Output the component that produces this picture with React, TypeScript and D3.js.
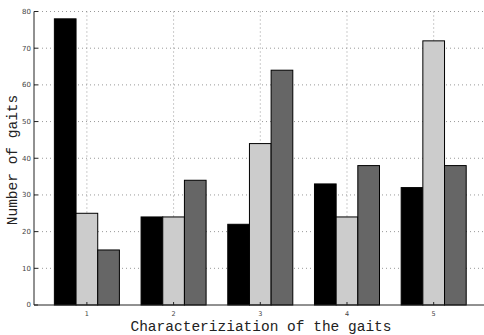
import React from "react";
import * as d3 from "d3";

const categories = [1, 2, 3, 4, 5];
const seriesA = [78, 24, 22, 33, 32];
const seriesB = [25, 24, 44, 24, 72];
const seriesC = [15, 34, 64, 38, 38];
const yTicks = [0, 10, 20, 30, 40, 50, 60, 70, 80];

const W = 484;
const H = 335;
const left = 34;
const top = 11.5;
const bottom = 305;

const x = d3.scaleLinear().domain([0.39, 5.61]).range([left, left + 86.7 * 5.22]);
const y = d3.scaleLinear().domain([0, 80]).range([bottom, top]);

const series = [
  { values: seriesA, color: "#000000", offset: -0.25 },
  { values: seriesB, color: "#cccccc", offset: 0 },
  { values: seriesC, color: "#666666", offset: 0.25 },
];
const barW = 0.25;

export default function App() {
  return (
    <svg width={W} height={H} style={{ position: "absolute", left: 0, top: 0, background: "#fff" }}>
      {yTicks.filter((t) => t > 0).map((t) => (
        <line key={"gy" + t} x1={left} x2={W} y1={y(t)} y2={y(t)} stroke="#999" strokeWidth={1} strokeDasharray="1,3" />
      ))}
      {categories.map((c) => (
        <line key={"gx" + c} x1={x(c)} x2={x(c)} y1={top} y2={bottom} stroke="#999" strokeWidth={1} strokeDasharray="1,3" />
      ))}
      {series.map((s, si) =>
        s.values.map((v, i) => {
          const cx = categories[i] + s.offset;
          const x0 = x(cx - barW / 2);
          const x1 = x(cx + barW / 2);
          return (
            <rect
              key={si + "-" + i}
              x={x0}
              y={y(v)}
              width={x1 - x0}
              height={y(0) - y(v)}
              fill={s.color}
              stroke="#000"
              strokeWidth={1}
            />
          );
        })
      )}
      <line x1={left} x2={left} y1={top} y2={bottom} stroke="#222" strokeWidth={1} />
      <line x1={left} x2={W} y1={bottom} y2={bottom} stroke="#222" strokeWidth={1} />
      {yTicks.map((t) => (
        <g key={"yt" + t}>
          <line x1={left} x2={left + 4} y1={y(t)} y2={y(t)} stroke="#222" strokeWidth={1} />
          <text x={left - 3} y={y(t)} dy="0.35em" textAnchor="end" fontSize={7} fontFamily="DejaVu Sans" fill="#444">
            {t}
          </text>
        </g>
      ))}
      {categories.map((c) => (
        <g key={"xt" + c}>
          <line x1={x(c)} x2={x(c)} y1={bottom} y2={bottom - 3} stroke="#222" strokeWidth={1} />
          <text x={x(c)} y={316} textAnchor="middle" fontSize={6.5} fontFamily="DejaVu Sans" fill="#444">
            {c}
          </text>
        </g>
      ))}
      <text x={261} y={331} textAnchor="middle" fontSize={14.5} fontFamily="Liberation Mono" fill="#222">
        Characteriziation of the gaits
      </text>
      <text
        transform={`translate(17,160) rotate(-90)`}
        textAnchor="middle"
        fontSize={14.5}
        fontFamily="Liberation Mono"
        fill="#222"
      >
        Number of gaits
      </text>
    </svg>
  );
}
